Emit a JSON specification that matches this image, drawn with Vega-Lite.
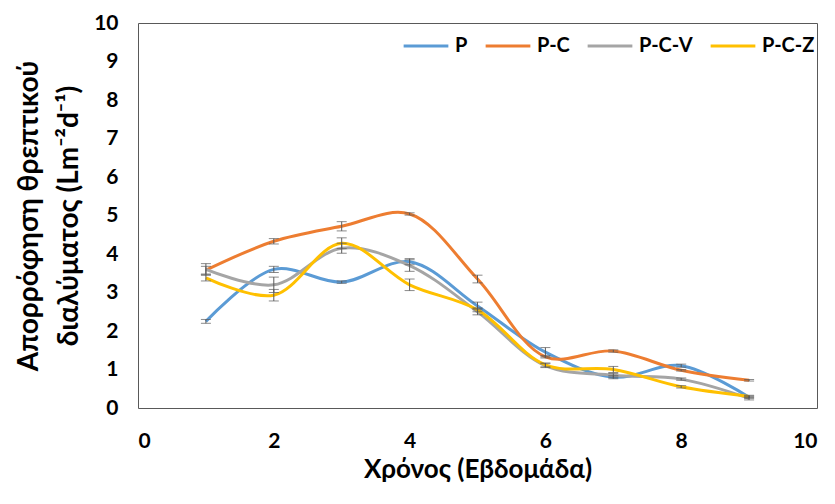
{
  "$schema": "https://vega.github.io/schema/vega-lite/v6.json",
  "width": 679,
  "height": 385,
  "autosize": "none",
  "padding": {"left": 138, "top": 23, "right": 18, "bottom": 96},
  "background": "white",
  "config": {
    "font": "Lato",
    "view": {"stroke": "#595959", "strokeWidth": 1},
    "axis": {"grid": false, "ticks": false, "domain": false, "labelFont": "Lato", "labelFontWeight": "bold", "labelFontSize": 21, "labelColor": "#000000", "titleFont": "Lato", "titleFontWeight": "bold", "titleFontSize": 28, "titleColor": "#000000"},
    "legend": {"labelFont": "Lato", "labelFontWeight": "bold", "labelFontSize": 20, "labelColor": "#000000"}
  },
  "data": {
    "values": [
      {"week": 1, "series": "P", "value": 2.25, "err": 0.05},
      {"week": 2, "series": "P", "value": 3.6, "err": 0.08},
      {"week": 3, "series": "P", "value": 3.27, "err": 0.03},
      {"week": 4, "series": "P", "value": 3.8, "err": 0.08},
      {"week": 5, "series": "P", "value": 2.65, "err": 0.1},
      {"week": 6, "series": "P", "value": 1.45, "err": 0.12},
      {"week": 7, "series": "P", "value": 0.8, "err": 0.04},
      {"week": 8, "series": "P", "value": 1.1, "err": 0.04},
      {"week": 9, "series": "P", "value": 0.28, "err": 0.03},
      {"week": 1, "series": "P-C", "value": 3.58, "err": 0.1},
      {"week": 2, "series": "P-C", "value": 4.33, "err": 0.07},
      {"week": 3, "series": "P-C", "value": 4.72, "err": 0.12},
      {"week": 4, "series": "P-C", "value": 5.04, "err": 0.03},
      {"week": 5, "series": "P-C", "value": 3.35, "err": 0.1},
      {"week": 6, "series": "P-C", "value": 1.33, "err": 0.03},
      {"week": 7, "series": "P-C", "value": 1.48, "err": 0.03},
      {"week": 8, "series": "P-C", "value": 0.98, "err": 0.02},
      {"week": 9, "series": "P-C", "value": 0.72, "err": 0.02},
      {"week": 1, "series": "P-C-V", "value": 3.6, "err": 0.15},
      {"week": 2, "series": "P-C-V", "value": 3.2, "err": 0.2},
      {"week": 3, "series": "P-C-V", "value": 4.15, "err": 0.13},
      {"week": 4, "series": "P-C-V", "value": 3.7, "err": 0.15},
      {"week": 5, "series": "P-C-V", "value": 2.5, "err": 0.08},
      {"week": 6, "series": "P-C-V", "value": 1.1, "err": 0.05},
      {"week": 7, "series": "P-C-V", "value": 0.85, "err": 0.05},
      {"week": 8, "series": "P-C-V", "value": 0.75, "err": 0.03},
      {"week": 9, "series": "P-C-V", "value": 0.25, "err": 0.04},
      {"week": 1, "series": "P-C-Z", "value": 3.38, "err": 0.08},
      {"week": 2, "series": "P-C-Z", "value": 2.93, "err": 0.15},
      {"week": 3, "series": "P-C-Z", "value": 4.28, "err": 0.14},
      {"week": 4, "series": "P-C-Z", "value": 3.2, "err": 0.15},
      {"week": 5, "series": "P-C-Z", "value": 2.55, "err": 0.05},
      {"week": 6, "series": "P-C-Z", "value": 1.12, "err": 0.05},
      {"week": 7, "series": "P-C-Z", "value": 1.0, "err": 0.08},
      {"week": 8, "series": "P-C-Z", "value": 0.55, "err": 0.03},
      {"week": 9, "series": "P-C-Z", "value": 0.3, "err": 0.03}
    ]
  },
  "encoding": {
    "x": {"field": "week", "type": "quantitative", "scale": {"domain": [0, 10], "nice": false}, "axis": {"values": [0, 2, 4, 6, 8, 10], "format": "d", "labelPadding": 22, "title": "Χρόνος (Εβδομάδα)", "titleFontSize": 26, "titlePadding": 5}},
    "y": {"field": "value", "type": "quantitative", "scale": {"domain": [0, 10], "nice": false}, "axis": {"values": [0, 1, 2, 3, 4, 5, 6, 7, 8, 9, 10], "format": "d", "labelPadding": 20, "title": ["Απορρόφηση θρεπτικού", "διαλύματος (Lm⁻²d⁻¹)"], "titlePadding": 10, "titleLineHeight": 40}}
  },
  "layer": [
    {
      "mark": {"type": "line", "interpolate": "catmull-rom", "strokeWidth": 3},
      "encoding": {
        "color": {"field": "series", "type": "nominal", "scale": {"domain": ["P", "P-C", "P-C-V", "P-C-Z"], "range": ["#5B9BD5", "#ED7D31", "#A5A5A5", "#FFC000"]},
          "legend": {"title": null, "orient": "none", "legendX": 264, "legendY": -1, "direction": "horizontal", "symbolType": "stroke", "symbolSize": 2000, "symbolStrokeWidth": 3, "columnPadding": 11, "labelOffset": 5}}
      }
    },
    {
      "mark": {"type": "errorbar", "ticks": {"size": 10, "color": "#595959"}, "rule": {"color": "#595959"}},
      "encoding": {
        "yError": {"field": "err"},
        "detail": {"field": "series", "type": "nominal"}
      }
    }
  ]
}
